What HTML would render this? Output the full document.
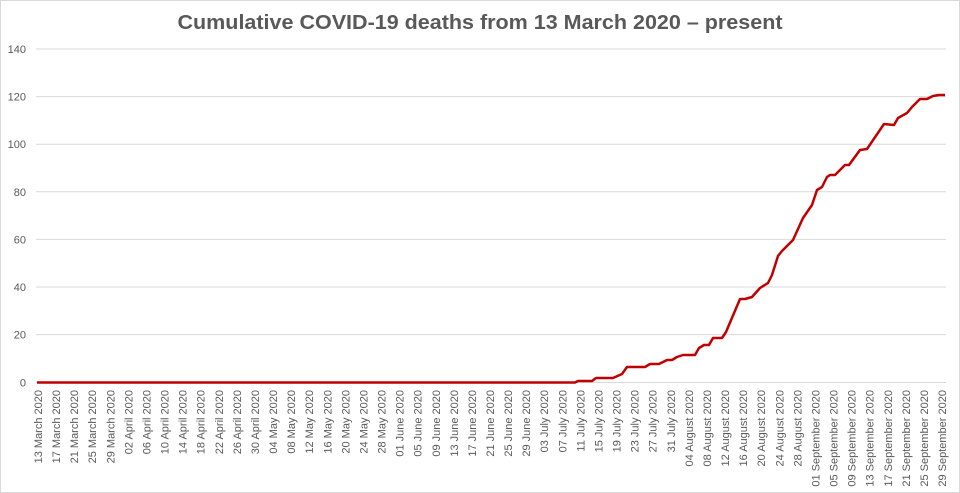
<!DOCTYPE html>
<html><head><meta charset="utf-8"><style>
html,body{margin:0;padding:0;background:#fff;}
svg{display:block;font-family:"Liberation Sans",Arial,sans-serif;}
</style></head><body>
<svg width="960" height="493" viewBox="0 0 960 493" xmlns="http://www.w3.org/2000/svg">
<rect x="0.5" y="0.5" width="959" height="492" fill="#fff" stroke="#d9d9d9"/>
<text x="480" y="29" text-anchor="middle" font-size="20" font-weight="bold" fill="#595959" textLength="605" lengthAdjust="spacingAndGlyphs">Cumulative COVID-19 deaths from 13 March 2020 – present</text>
<g stroke="#d9d9d9" stroke-width="1">
<line x1="36" x2="946" y1="49" y2="49"/>
<line x1="36" x2="946" y1="96.6" y2="96.6"/>
<line x1="36" x2="946" y1="144.2" y2="144.2"/>
<line x1="36" x2="946" y1="191.8" y2="191.8"/>
<line x1="36" x2="946" y1="239.4" y2="239.4"/>
<line x1="36" x2="946" y1="287" y2="287"/>
<line x1="36" x2="946" y1="334.6" y2="334.6"/>
<line x1="36" x2="946" y1="382.5" y2="382.5"/>
</g>
<g font-size="11" fill="#595959" text-anchor="end">
<text x="26" y="53">140</text>
<text x="26" y="100.6">120</text>
<text x="26" y="148.2">100</text>
<text x="26" y="195.8">80</text>
<text x="26" y="243.4">60</text>
<text x="26" y="291">40</text>
<text x="26" y="338.6">20</text>
<text x="26" y="386.5">0</text>
</g>
<polyline fill="none" stroke="#c00000" stroke-width="2.5" stroke-linejoin="round" points="37,382.5 575,382.5 578,381 592,381 596,378 613,378 622,374 627,367 645,367 650,364 659,364 667,360 672,360 677,357 683,355 695,355 699,348 704,345 709,345 713,338 722,338 726,332 740,299 745,299 752,297 760,288 768,283 772,275 778,256 782,251 793,240 803,218 812,205 817,190 822,187 827,177 830,175 835,175 845,165 849,165 860,150 867,149 884,124 894,125 898,118 907,113 912,107 920,99 927,99 933,96 939,95 945,95"/>
<g font-size="11" fill="#595959" text-anchor="end">
<text transform="translate(42,390) rotate(-90)">13 March 2020</text>
<text transform="translate(60.1,390) rotate(-90)">17 March 2020</text>
<text transform="translate(78.2,390) rotate(-90)">21 March 2020</text>
<text transform="translate(96.2,390) rotate(-90)">25 March 2020</text>
<text transform="translate(114.3,390) rotate(-90)">29 March 2020</text>
<text transform="translate(132.4,390) rotate(-90)">02 April 2020</text>
<text transform="translate(150.5,390) rotate(-90)">06 April 2020</text>
<text transform="translate(168.6,390) rotate(-90)">10 April 2020</text>
<text transform="translate(186.6,390) rotate(-90)">14 April 2020</text>
<text transform="translate(204.7,390) rotate(-90)">18 April 2020</text>
<text transform="translate(222.8,390) rotate(-90)">22 April 2020</text>
<text transform="translate(240.9,390) rotate(-90)">26 April 2020</text>
<text transform="translate(259,390) rotate(-90)">30 April 2020</text>
<text transform="translate(277,390) rotate(-90)">04 May 2020</text>
<text transform="translate(295.1,390) rotate(-90)">08 May 2020</text>
<text transform="translate(313.2,390) rotate(-90)">12 May 2020</text>
<text transform="translate(331.3,390) rotate(-90)">16 May 2020</text>
<text transform="translate(349.4,390) rotate(-90)">20 May 2020</text>
<text transform="translate(367.4,390) rotate(-90)">24 May 2020</text>
<text transform="translate(385.5,390) rotate(-90)">28 May 2020</text>
<text transform="translate(403.6,390) rotate(-90)">01 June 2020</text>
<text transform="translate(421.7,390) rotate(-90)">05 June 2020</text>
<text transform="translate(439.8,390) rotate(-90)">09 June 2020</text>
<text transform="translate(457.8,390) rotate(-90)">13 June 2020</text>
<text transform="translate(475.9,390) rotate(-90)">17 June 2020</text>
<text transform="translate(494,390) rotate(-90)">21 June 2020</text>
<text transform="translate(512.1,390) rotate(-90)">25 June 2020</text>
<text transform="translate(530.2,390) rotate(-90)">29 June 2020</text>
<text transform="translate(548.2,390) rotate(-90)">03 July 2020</text>
<text transform="translate(566.3,390) rotate(-90)">07 July 2020</text>
<text transform="translate(584.4,390) rotate(-90)">11 July 2020</text>
<text transform="translate(602.5,390) rotate(-90)">15 July 2020</text>
<text transform="translate(620.6,390) rotate(-90)">19 July 2020</text>
<text transform="translate(638.6,390) rotate(-90)">23 July 2020</text>
<text transform="translate(656.7,390) rotate(-90)">27 July 2020</text>
<text transform="translate(674.8,390) rotate(-90)">31 July 2020</text>
<text transform="translate(692.9,390) rotate(-90)">04 August 2020</text>
<text transform="translate(711,390) rotate(-90)">08 August 2020</text>
<text transform="translate(729,390) rotate(-90)">12 August 2020</text>
<text transform="translate(747.1,390) rotate(-90)">16 August 2020</text>
<text transform="translate(765.2,390) rotate(-90)">20 August 2020</text>
<text transform="translate(783.3,390) rotate(-90)">24 August 2020</text>
<text transform="translate(801.4,390) rotate(-90)">28 August 2020</text>
<text transform="translate(819.4,390) rotate(-90)">01 September 2020</text>
<text transform="translate(837.5,390) rotate(-90)">05 September 2020</text>
<text transform="translate(855.6,390) rotate(-90)">09 September 2020</text>
<text transform="translate(873.7,390) rotate(-90)">13 September 2020</text>
<text transform="translate(891.8,390) rotate(-90)">17 September 2020</text>
<text transform="translate(909.8,390) rotate(-90)">21 September 2020</text>
<text transform="translate(927.9,390) rotate(-90)">25 September 2020</text>
<text transform="translate(946,390) rotate(-90)">29 September 2020</text>
</g>
</svg>
</body></html>
